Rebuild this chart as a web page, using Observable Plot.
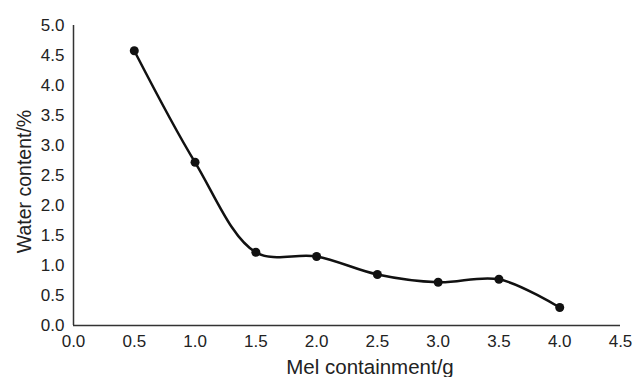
<!DOCTYPE html>
<html><head><meta charset="utf-8">
<script src="https://cdn.jsdelivr.net/npm/d3@7"></script>
<script src="https://cdn.jsdelivr.net/npm/@observablehq/plot@0.6"></script>
<style>body{margin:0;background:#fff}</style>
</head><body><div id="chart"></div>
<script>
const mel = [0.5, 1.0, 1.5, 2.0, 2.5, 3.0, 3.5, 4.0];
const water = [4.58, 2.72, 1.22, 1.15, 0.85, 0.72, 0.77, 0.30];
const xTicks = [0, 0.5, 1, 1.5, 2, 2.5, 3, 3.5, 4, 4.5];
const yTicks = [0, 0.5, 1, 1.5, 2, 2.5, 3, 3.5, 4, 4.5, 5];
const xLabel = "Mel containment/g";
const yLabel = "Water content/%";
const data = mel.map((m, i) => ({mel: m, water: water[i]}));
const font = "Liberation Sans, Arial, sans-serif";
const chart = Plot.plot({
  width: 636, height: 377,
  marginLeft: 73, marginRight: 16, marginTop: 25, marginBottom: 52,
  style: {fontFamily: font, fontSize: "17px", color: "#222", background: "#fff"},
  x: {domain: [0, 4.5], ticks: xTicks},
  y: {domain: [0, 5], ticks: yTicks},
  marks: [
    Plot.axisX({ticks: xTicks, tickSize: 0, tickPadding: 9, tickFormat: d3.format(".1f"), fontSize: 17, label: null}),
    Plot.axisY({ticks: yTicks, tickSize: 0, tickPadding: 9, tickFormat: d3.format(".1f"), fontSize: 17, label: null}),
    Plot.text([xLabel], {text: d => d, frameAnchor: "bottom", textAnchor: "middle", lineAnchor: "middle", dx: 23, dy: 42, fontSize: 20.5, fill: "#222"}),
    Plot.text([yLabel], {text: d => d, frameAnchor: "left", textAnchor: "middle", lineAnchor: "middle", rotate: -90, dx: -49, dy: 6, fontSize: 19.5, fill: "#222"}),
    Plot.ruleX([0], {stroke: "#333", strokeWidth: 1.5}),
    Plot.ruleY([0], {stroke: "#333", strokeWidth: 1.5}),
    Plot.line(data, {x: "mel", y: "water", curve: "catmull-rom", stroke: "#111", strokeWidth: 2.5}),
    Plot.dot(data, {x: "mel", y: "water", r: 4.5, fill: "#111"})
  ]
});
document.getElementById("chart").append(chart);
</script></body></html>
